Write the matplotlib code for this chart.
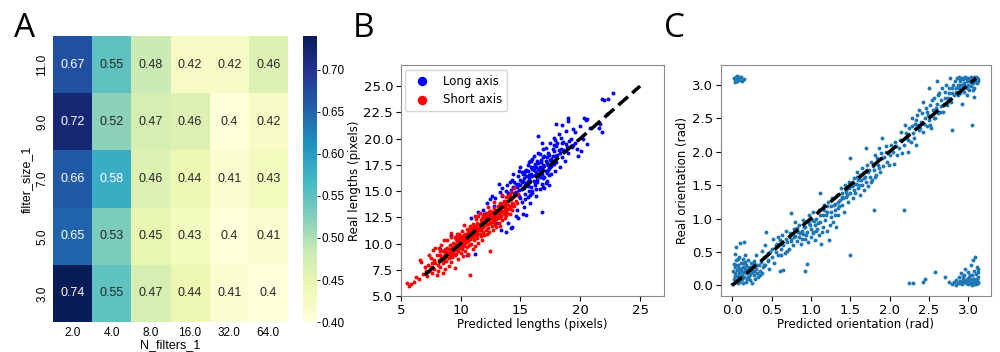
import numpy as np
import pandas as pd
import matplotlib
matplotlib.use("Agg")
import matplotlib.pyplot as plt
import seaborn as sns

# ---- panel A: grid search scores ----
n_filters = ["2.0", "4.0", "8.0", "16.0", "32.0", "64.0"]
filter_sizes = ["11.0", "9.0", "7.0", "5.0", "3.0"]
scores = [
    [0.67, 0.55, 0.48, 0.42, 0.42, 0.46],
    [0.72, 0.52, 0.47, 0.46, 0.40, 0.42],
    [0.66, 0.58, 0.46, 0.44, 0.41, 0.43],
    [0.65, 0.53, 0.45, 0.43, 0.40, 0.41],
    [0.74, 0.55, 0.47, 0.44, 0.41, 0.40],
]

# ---- panel B: predicted vs real lengths (pixels) ----
long_axis = [
    (8.3, 9.5), (9.2, 10.8), (10.0, 9.6), (10.5, 8.9), (10.9, 12.4), (11.2, 9.0), (11.5, 13.0),
    (11.9, 13.2), (12.0, 12.8), (12.2, 13.9), (12.5, 14.2), (12.6, 14.5), (12.8, 13.6), (12.9, 14.3),
    (13.0, 12.0), (13.3, 14.9), (13.4, 11.3), (13.5, 15.3), (13.6, 14.0), (13.8, 11.1), (13.9, 15.6),
    (14.0, 12.0), (14.0, 14.8), (14.2, 15.1), (14.2, 11.5), (14.3, 11.6), (14.3, 16.1), (14.5, 14.8),
    (14.6, 12.6), (14.6, 15.7), (14.7, 13.2), (14.8, 16.4), (14.8, 12.4), (14.9, 15.1), (14.9, 16.9),
    (15.0, 14.3), (15.0, 17.3), (15.1, 15.9), (15.1, 14.0), (15.2, 16.6), (15.2, 12.8), (15.3, 15.3),
    (15.3, 13.5), (15.4, 16.9), (15.4, 14.7), (15.5, 15.8), (15.5, 12.7), (15.5, 16.4), (15.6, 17.5),
    (15.6, 14.4), (15.7, 16.2), (15.7, 15.0), (15.8, 17.9), (15.8, 13.9), (15.9, 16.6), (15.9, 15.4),
    (15.9, 17.9), (16.0, 17.1), (16.0, 14.8), (16.0, 15.0), (16.1, 16.0), (16.1, 18.3), (16.2, 15.6),
    (16.2, 17.6), (16.2, 16.5), (16.3, 14.5), (16.3, 16.8), (16.4, 17.9), (16.4, 15.9), (16.4, 16.5),
    (16.5, 16.4), (16.5, 18.6), (16.5, 20.2), (16.6, 15.2), (16.6, 17.3), (16.6, 18.5), (16.7, 16.7),
    (16.7, 18.0), (16.8, 15.7), (16.8, 13.0), (16.8, 19.6), (16.9, 17.5), (16.9, 16.2), (17.0, 18.3),
    (17.0, 15.3), (17.0, 16.3), (17.1, 16.9), (17.1, 19.1), (17.2, 17.7), (17.2, 16.0), (17.3, 18.6),
    (17.3, 17.0), (17.4, 17.2), (17.4, 15.6), (17.5, 18.0), (17.5, 19.6), (17.6, 16.6), (17.6, 17.4),
    (17.7, 17.6), (17.8, 18.8), (17.8, 20.1), (17.9, 16.9), (18.0, 19.3), (18.0, 17.8), (18.0, 21.4),
    (18.1, 18.4), (18.2, 20.4), (18.3, 17.3), (18.4, 19.0), (18.5, 21.3), (18.5, 18.2), (18.6, 19.7),
    (18.7, 17.9), (18.8, 20.7), (18.9, 19.2), (19.0, 21.7), (19.0, 18.6), (19.0, 22.0), (19.2, 20.0),
    (19.3, 19.2), (19.4, 19.4), (19.6, 20.6), (19.75, 19.0), (19.8, 18.3), (20.0, 21.2), (20.1, 18.8),
    (20.2, 20.0), (20.3, 22.0), (20.5, 21.8), (20.6, 21.9), (20.6, 19.5), (20.8, 21.0), (21.6, 21.0),
    (21.65, 21.4), (21.8, 20.6), (21.8, 23.8), (22.0, 23.7), (22.2, 22.3), (22.35, 23.8), (22.7, 24.3),
    (13.2, 15.7), (14.4, 16.6), (15.0, 15.6), (15.6, 16.0), (16.1, 17.3), (16.8, 17.2), (17.2, 18.2),
    (17.7, 18.3), (18.2, 18.9), (15.3, 16.2), (14.7, 15.4), (16.5, 17.7), (17.9, 19.9), (18.4, 20.1),
    (14.1, 14.4), (14.4, 15.4), (14.6, 14.9), (14.8, 15.7), (15.0, 16.1), (15.1, 15.2), (15.2, 16.0),
    (15.3, 16.7), (15.4, 15.6), (15.5, 17.0), (15.6, 15.5), (15.7, 16.5), (15.8, 16.0), (15.9, 17.3),
    (16.0, 16.4), (16.1, 17.0), (16.2, 15.9), (16.3, 17.3), (16.4, 16.1), (16.5, 17.1), (16.6, 16.3),
    (16.7, 17.8), (16.8, 16.6), (16.9, 18.2), (17.0, 17.4), (17.1, 17.9), (17.2, 16.7), (17.3, 17.5),
    (17.4, 18.4), (17.5, 17.3), (17.6, 18.1), (17.7, 19.0), (17.8, 17.6), (17.9, 18.3), (18.1, 19.6),
    (18.3, 18.6), (18.6, 18.9), (18.8, 19.5), (19.1, 19.8), (19.4, 20.9), (15.1, 16.8), (15.6, 16.9),
    (16.0, 18.1), (16.6, 16.9), (17.1, 15.8), (17.8, 19.4), (14.5, 15.9), (15.8, 14.6), (16.9, 15.4),
    (15.4, 14.2), (14.9, 14.5), (16.3, 15.2), (13.8, 15.0), (14.1, 15.9), (13.5, 14.5), (17.4, 16.5),
    (18.5, 19.6), (19.6, 19.6), (15.7, 17.8), (16.9, 19.0),
]
short_axis = [
    (5.5, 6.2), (5.7, 6.0), (5.9, 6.1), (6.1, 6.3), (6.3, 6.8), (6.5, 6.6), (6.6, 8.4), (6.7, 8.2),
    (6.9, 7.1), (7.0, 7.8), (7.2, 6.9), (7.3, 8.0), (7.4, 7.4), (7.4, 8.9), (7.5, 8.6), (7.6, 7.2),
    (7.7, 9.4), (7.8, 7.6), (7.9, 8.1), (7.9, 9.6), (8.0, 7.0), (8.0, 8.9), (8.1, 7.4), (8.2, 8.4),
    (8.2, 9.6), (8.3, 9.3), (8.3, 7.8), (8.4, 9.9), (8.5, 8.1), (8.5, 7.2), (8.6, 8.8), (8.6, 10.3),
    (8.7, 9.5), (8.7, 7.6), (8.8, 8.3), (8.9, 9.0), (8.9, 10.3), (9.0, 8.6), (9.0, 7.9), (9.1, 9.4),
    (9.1, 9.9), (9.2, 8.2), (9.2, 10.6), (9.2, 11.0), (9.3, 9.1), (9.3, 8.7), (9.4, 9.7), (9.4, 10.1),
    (9.5, 8.9), (9.5, 9.4), (9.5, 7.7), (9.5, 10.6), (9.6, 10.4), (9.6, 9.0), (9.7, 9.8), (9.7, 10.9),
    (9.8, 9.3), (9.8, 8.5), (9.9, 10.2), (9.9, 9.6), (10.0, 10.0), (10.0, 9.1), (10.0, 10.7),
    (10.1, 9.5), (10.1, 11.2), (10.2, 10.3), (10.2, 8.8), (10.3, 9.8), (10.3, 10.8), (10.3, 11.8),
    (10.4, 10.1), (10.4, 9.3), (10.5, 10.6), (10.5, 11.4), (10.5, 9.7), (10.6, 10.2), (10.6, 8.9),
    (10.6, 9.0), (10.7, 10.9), (10.7, 9.9), (10.8, 10.4), (10.8, 11.7), (10.8, 7.0), (10.9, 10.0),
    (10.9, 11.1), (11.0, 10.6), (11.0, 9.5), (11.0, 11.9), (11.1, 10.3), (11.1, 11.4), (11.2, 10.8),
    (11.2, 9.8), (11.2, 12.6), (11.3, 11.1), (11.3, 12.3), (11.4, 10.5), (11.4, 11.6), (11.5, 10.9),
    (11.5, 10.1), (11.5, 12.6), (11.6, 11.3), (11.6, 11.9), (11.6, 12.9), (11.7, 10.7), (11.7, 12.2),
    (11.8, 11.5), (11.8, 10.3), (11.9, 11.1), (11.9, 12.0), (12.0, 11.7), (12.0, 10.8), (12.0, 12.5),
    (12.1, 11.3), (12.1, 12.9), (12.2, 11.9), (12.2, 10.9), (12.3, 12.3), (12.3, 11.5), (12.3, 13.5),
    (12.4, 12.7), (12.4, 11.1), (12.5, 12.0), (12.5, 9.3), (12.5, 13.1), (12.6, 11.7), (12.6, 12.4),
    (12.7, 12.9), (12.7, 11.3), (12.8, 12.2), (12.8, 13.4), (12.8, 14.0), (12.9, 11.9), (12.9, 12.6),
    (13.0, 13.0), (13.0, 11.6), (13.1, 12.4), (13.1, 13.6), (13.2, 12.8), (13.2, 12.0), (13.3, 13.3),
    (13.3, 11.7), (13.4, 12.6), (13.4, 13.8), (13.5, 13.1), (13.5, 12.2), (13.5, 14.6), (13.6, 13.5),
    (13.6, 12.8), (13.7, 14.0), (13.7, 12.4), (13.8, 13.2), (13.8, 14.4), (13.9, 12.9), (13.9, 13.7),
    (14.0, 14.1), (14.0, 13.3), (14.1, 12.8), (14.1, 14.6), (14.2, 13.6), (14.2, 14.9), (14.3, 13.9),
    (14.4, 14.4), (14.5, 13.6), (14.5, 15.3), (14.6, 14.1), (14.8, 14.7), (8.1, 8.0), (8.8, 9.2),
    (9.4, 9.3), (9.9, 10.9), (10.2, 9.9), (10.7, 10.5), (11.1, 10.9), (11.4, 11.2), (11.8, 12.1),
    (12.2, 12.2), (12.6, 13.0), (12.9, 13.2), (13.3, 12.9), (13.7, 13.4), (14.2, 14.2), (10.4, 10.9),
    (11.7, 11.4), (12.4, 12.2), (13.1, 13.0), (9.0, 9.5), (9.7, 9.4), (8.4, 8.6), (7.6, 8.1),
    (8.6, 8.4), (8.8, 8.7), (9.0, 9.1), (9.1, 8.9), (9.3, 9.6), (9.4, 9.0), (9.6, 9.7), (9.7, 10.2),
    (9.8, 9.9), (9.9, 10.5), (10.0, 9.8), (10.1, 10.4), (10.2, 10.7), (10.3, 10.3), (10.4, 10.6),
    (10.5, 10.2), (10.6, 10.8), (10.7, 11.3), (10.8, 10.9), (10.9, 10.6), (11.0, 11.2), (11.1, 11.6),
    (11.2, 11.3), (11.3, 10.8), (11.4, 12.0), (11.5, 11.5), (11.6, 10.9), (11.7, 11.8), (11.8, 12.4),
    (11.9, 11.7), (12.0, 12.1), (12.1, 11.9), (12.2, 12.6), (12.3, 11.9), (12.4, 12.4), (12.5, 12.7),
    (12.6, 12.1), (12.7, 12.5), (12.8, 12.8), (12.9, 13.0), (13.0, 12.3), (13.1, 12.7), (13.2, 13.3),
    (13.3, 12.5), (13.4, 13.1), (13.5, 13.6), (13.6, 13.1), (13.7, 13.7), (13.8, 12.7), (13.9, 14.1),
    (14.0, 13.7), (14.1, 13.4), (14.2, 14.3), (14.3, 13.2), (14.4, 13.8), (14.6, 14.6), (14.7, 13.9),
    (9.2, 9.4), (10.4, 10.4), (11.3, 11.7), (12.1, 12.3), (12.9, 12.2), (13.6, 14.1), (8.3, 8.9),
    (8.9, 9.6), (9.5, 10.0), (10.1, 10.1), (10.9, 11.5), (11.6, 11.6), (12.4, 13.0), (13.2, 13.0),
    (14.0, 14.5), (7.8, 8.4), (8.5, 9.3), (7.1, 7.4), (7.5, 7.8), (10.6, 11.1), (11.9, 12.7),
    (13.3, 13.9), (12.6, 12.9), (11.0, 10.8), (9.8, 10.6), (8.7, 9.0),
]

# ---- panel C: predicted vs real orientation (rad) ----
orientation = [
    # near 0
    (0.0, 0.02), (0.01, 0.22), (0.02, 0.1), (0.02, 0.32), (0.03, 0.05), (0.03, 0.47), (0.04, 0.18),
    (0.04, 0.27), (0.05, 0.08), (0.05, 0.38), (0.05, 0.58), (0.06, 0.14), (0.06, 0.23), (0.07, 0.03),
    (0.07, 0.31), (0.08, 0.19), (0.08, 0.12), (0.09, 0.26), (0.09, 0.42), (0.1, 0.06), (0.1, 0.63),
    (0.1, 0.21), (0.11, 0.33), (0.12, 0.15), (0.12, 0.09), (0.13, 0.28), (0.13, 0.4), (0.14, 0.2),
    (0.15, 0.65), (0.15, 0.12), (0.16, 0.25), (0.16, 0.35), (0.17, 0.05), (0.18, 0.18), (0.18, 0.3),
    (0.19, 0.1), (0.2, 0.22), (0.2, 0.38), (0.21, 0.14), (0.22, 0.27), (0.23, 0.08), (0.24, 0.33),
    (0.25, 0.2), (0.25, 0.04), (0.26, 0.29), (0.27, 0.15), (0.28, 0.36), (0.29, 0.1), (0.3, 0.25),
    (0.31, 0.18), (0.32, 0.31), (0.33, 0.12), (0.35, 0.22), (0.36, 0.35), (0.38, 0.19), (0.39, 0.28),
    (0.4, 0.42), (0.42, 0.3), (0.43, 0.8), (0.45, 0.36), (0.45, 0.48),
    (0.05, 0.3), (0.08, 0.05), (0.11, 0.25), (0.14, 0.34), (0.17, 0.22), (0.19, 0.28), (0.22, 0.17),
    (0.24, 0.24), (0.27, 0.34), (0.03, 0.14), (0.13, 0.04), (0.2, 0.12), (0.28, 0.22), (0.34, 0.3),
    (0.07, 0.4), (0.16, 0.45),
    # diagonal
    (0.3, 0.45), (0.35, 0.15), (0.38, 0.52), (0.4, 0.3), (0.42, 0.6), (0.45, 0.38), (0.47, 0.25),
    (0.5, 0.55), (0.5, 0.42), (0.52, 0.7), (0.53, 0.33), (0.55, 0.5), (0.57, 0.62), (0.58, 0.45),
    (0.6, 0.22), (0.6, 0.68), (0.62, 0.55), (0.63, 0.75), (0.65, 0.23), (0.65, 0.6), (0.67, 0.48),
    (0.68, 0.82), (0.7, 0.65), (0.72, 0.55), (0.73, 0.78), (0.75, 0.7), (0.75, 1.08), (0.77, 0.6),
    (0.78, 0.85), (0.8, 0.74), (0.8, 0.95), (0.82, 0.66), (0.83, 0.8), (0.85, 0.9), (0.85, 0.72),
    (0.87, 0.62), (0.88, 0.82), (0.9, 0.77), (0.9, 0.98), (0.92, 0.22), (0.92, 0.7), (0.93, 0.88),
    (0.95, 0.32), (0.95, 0.8), (0.96, 0.65), (0.97, 0.93), (0.98, 1.05), (1.0, 0.85), (1.0, 0.72),
    (1.01, 0.98), (1.02, 1.1), (1.03, 0.8), (1.05, 0.9), (1.05, 0.68), (1.07, 1.0), (1.08, 0.85),
    (1.1, 1.12), (1.1, 0.75), (1.12, 0.95), (1.12, 1.38), (1.13, 0.62), (1.15, 1.05), (1.15, 0.88),
    (1.17, 1.2), (1.18, 0.98), (1.2, 1.1), (1.2, 0.82), (1.22, 1.25), (1.23, 0.68), (1.25, 1.02),
    (1.25, 1.18), (1.27, 1.3), (1.28, 0.95), (1.3, 1.12), (1.3, 1.22), (1.32, 0.88), (1.33, 1.35),
    (1.35, 1.15), (1.35, 1.05), (1.37, 1.28), (1.38, 1.45), (1.4, 1.2), (1.4, 1.38), (1.42, 1.1),
    (1.43, 1.5), (1.45, 1.32), (1.45, 1.42), (1.47, 1.25), (1.48, 1.55), (1.5, 0.45), (1.5, 1.38),
    (1.5, 1.9), (1.52, 1.48), (1.53, 1.3), (1.55, 1.6), (1.55, 1.42), (1.57, 1.52), (1.58, 1.7),
    (1.6, 1.45), (1.6, 1.58), (1.62, 1.35), (1.63, 1.65), (1.65, 1.5), (1.65, 1.75), (1.67, 1.6),
    (1.68, 1.42), (1.7, 1.55), (1.7, 2.05), (1.72, 1.7), (1.73, 1.48), (1.75, 1.62), (1.77, 1.85),
    (1.78, 1.58), (1.8, 1.12), (1.8, 1.72), (1.82, 1.95), (1.83, 1.65), (1.85, 1.8), (1.87, 2.05),
    (1.88, 1.7), (1.9, 1.9), (1.9, 2.2), (1.92, 1.78), (1.95, 2.0), (1.97, 1.85), (2.0, 1.95),
    (2.02, 2.1), (2.05, 1.82), (2.07, 2.15), (2.1, 1.95), (2.12, 2.05), (2.15, 2.3), (2.18, 1.13),
    (2.18, 2.1), (2.2, 2.4), (2.22, 2.22), (2.23, 2.0), (2.25, 2.35), (2.27, 2.15), (2.28, 2.5),
    (2.3, 2.28), (2.32, 2.42), (2.33, 2.1), (2.35, 2.55), (2.37, 2.32), (2.38, 2.62), (2.4, 2.45),
    (2.42, 2.3), (2.43, 2.75), (2.45, 2.5), (2.47, 2.38), (2.48, 2.6), (2.5, 2.95), (2.5, 2.48),
    (2.52, 2.7), (2.53, 2.35), (2.55, 2.62), (2.57, 2.8), (2.58, 2.5), (2.6, 2.72), (2.6, 3.05),
    (2.62, 2.58), (2.63, 2.88), (2.65, 2.68), (2.67, 2.95), (2.68, 2.6), (2.7, 2.8), (2.72, 3.0),
    (2.73, 2.7), (2.75, 2.88), (2.77, 3.1), (2.78, 2.75), (2.8, 2.32), (2.8, 2.95), (2.82, 2.85),
    (2.83, 3.05),
    (0.48, 0.5), (0.55, 0.6), (0.58, 0.72), (0.62, 0.45), (0.68, 0.7), (0.7, 0.52), (0.74, 0.66),
    (0.78, 0.72), (0.82, 0.86), (0.86, 0.78), (0.89, 0.7), (0.91, 0.87), (0.94, 0.75), (0.99, 0.9),
    (1.02, 0.78), (1.04, 0.96), (1.06, 0.82), (1.09, 0.93), (1.11, 1.05), (1.14, 0.8), (1.16, 1.12),
    (1.19, 1.05), (1.21, 1.18), (1.24, 0.9), (1.26, 1.1), (1.29, 1.2), (1.31, 1.05), (1.34, 1.25),
    (1.36, 1.18), (1.39, 1.32), (1.41, 1.3), (1.44, 1.4), (1.46, 1.35), (1.49, 1.45), (1.51, 1.52),
    (1.54, 1.5), (1.56, 1.38), (1.59, 1.62), (1.61, 1.5), (1.64, 1.58), (1.66, 1.68), (1.69, 1.62),
    (1.71, 1.8), (1.74, 1.72), (1.76, 1.55), (1.79, 1.78), (1.81, 1.62), (1.84, 1.9), (1.86, 1.75),
    (1.89, 1.98), (1.93, 1.92), (1.96, 2.08), (1.99, 1.8), (2.04, 2.0), (2.08, 2.08), (2.13, 2.18),
    (2.16, 1.98), (2.21, 2.28), (2.24, 2.18), (2.29, 2.38), (2.31, 2.2), (2.34, 2.48), (2.36, 2.4),
    (2.39, 2.35), (2.41, 2.58), (2.44, 2.42), (2.46, 2.65), (2.49, 2.55), (2.51, 2.4), (2.54, 2.78),
    (2.56, 2.5), (2.59, 2.65), (2.61, 2.85), (2.64, 2.6), (2.66, 2.78), (2.69, 2.72), (2.71, 2.9),
    (2.74, 2.8), (2.76, 2.95), (2.79, 2.88), (2.81, 3.0), (2.84, 2.95),
    # near pi
    (2.85, 2.9), (2.86, 3.1), (2.87, 3.0), (2.88, 2.95), (2.88, 3.12), (2.9, 3.05), (2.9, 2.88),
    (2.91, 3.0), (2.92, 3.1), (2.93, 2.95), (2.94, 3.08), (2.95, 2.9), (2.95, 3.02), (2.96, 3.12),
    (2.97, 2.97), (2.98, 3.06), (2.99, 2.85), (3.0, 3.1), (3.0, 3.0), (3.01, 2.92), (3.02, 3.05),
    (3.03, 3.12), (3.04, 2.98), (3.05, 3.08), (3.05, 2.4), (3.06, 3.02), (3.07, 3.1), (3.08, 2.95),
    (3.09, 3.06), (3.1, 3.12), (3.11, 3.03), (3.12, 3.08), (3.13, 3.06), (2.92, 2.72), (3.08, 2.82),
    (2.89, 3.08), (2.94, 3.0), (2.97, 3.1), (3.01, 3.07), (3.04, 3.04), (3.06, 2.92), (3.08, 3.12),
    (3.11, 3.1), (2.87, 2.85), (2.99, 2.95),
    # wrapped: predicted ~pi, real ~0
    (2.25, 0.03), (2.3, 0.04), (2.42, 0.05), (2.45, 0.1), (2.58, 0.2), (2.7, 0.12), (2.75, 0.05),
    (2.8, 0.02), (2.82, 0.05), (2.84, 0.01), (2.85, 0.08), (2.87, 0.03), (2.88, 0.12), (2.9, 0.06),
    (2.91, 0.18), (2.92, 0.02), (2.93, 0.09), (2.94, 0.05), (2.95, 0.15), (2.96, 0.25), (2.97, 0.03),
    (2.98, 0.1), (2.99, 0.07), (3.0, 0.2), (3.0, 0.02), (3.01, 0.12), (3.02, 0.05), (3.03, 0.3),
    (3.04, 0.08), (3.05, 0.15), (3.05, 0.01), (3.06, 0.38), (3.07, 0.04), (3.07, 0.22), (3.08, 0.1),
    (3.09, 0.42), (3.09, 0.06), (3.1, 0.17), (3.1, 0.02), (3.11, 0.28), (3.11, 0.09), (3.12, 0.05),
    (3.12, 0.13), (3.13, 0.2), (3.13, 0.03),
    (2.96, 0.06), (3.02, 0.16), (3.06, 0.1), (3.08, 0.02), (3.1, 0.08), (3.12, 0.25), (3.0, 0.1),
    (2.94, 0.12), (3.04, 0.03), (2.89, 0.04),
    # wrapped: predicted ~0, real ~pi
    (0.02, 3.1), (0.03, 3.04), (0.04, 3.08), (0.05, 3.12), (0.06, 3.05), (0.06, 3.13), (0.07, 3.1),
    (0.08, 3.11), (0.09, 3.07), (0.1, 3.09), (0.11, 3.12), (0.12, 3.06), (0.15, 3.08),
]

long_axis = np.array(long_axis)
short_axis = np.array(short_axis)
orientation = np.array(orientation)

fig = plt.figure(figsize=(10, 3.52), dpi=100)

# ---- A ----
ax_a = fig.add_axes([0.053, 0.085, 0.235, 0.8125])
cax = fig.add_axes([0.303, 0.085, 0.014, 0.8125])
df = pd.DataFrame(scores, index=filter_sizes, columns=n_filters)
sns.heatmap(df, annot=True, cmap="YlGnBu", ax=ax_a, cbar_ax=cax,
            annot_kws={"fontsize": 9, "fontfamily": "Liberation Sans"})
ax_a.tick_params(length=0, labelsize=8.5)
for lbl in ax_a.get_xticklabels() + ax_a.get_yticklabels():
    lbl.set_fontfamily("Liberation Sans")
for lbl in ax_a.get_yticklabels():
    lbl.set_rotation(90)
    lbl.set_va("center")
ax_a.set_xlabel("N_filters_1", fontsize=9, family="Liberation Sans", labelpad=0)
ax_a.set_ylabel("filter_size_1", fontsize=9, family="Liberation Sans", labelpad=2)
cax.set_yticks([0.40, 0.45, 0.50, 0.55, 0.60, 0.65, 0.70])
cax.set_yticklabels(["0.40", "0.45", "0.50", "0.55", "0.60", "0.65", "0.70"],
                    fontsize=8.5, family="Liberation Sans")
cax.tick_params(length=2.5, width=0.6, pad=1)

# ---- B ----
ax_b = fig.add_axes([0.4007, 0.159, 0.2633, 0.656])
ax_b.scatter(long_axis[:, 0], long_axis[:, 1], s=8, c="b", linewidths=0, label="Long axis")
ax_b.scatter(short_axis[:, 0], short_axis[:, 1], s=8, c="r", linewidths=0, label="Short axis")
ax_b.plot([7, 25], [7, 25], "k--", lw=2.5)
ax_b.set_xlim(5, 27)
ax_b.set_ylim(5, 27)
ax_b.set_xticks([5, 10, 15, 20, 25])
ax_b.set_yticks([5.0, 7.5, 10.0, 12.5, 15.0, 17.5, 20.0, 22.5, 25.0])
ax_b.set_xlabel("Predicted lengths (pixels)", fontsize=8.5, labelpad=1)
ax_b.set_ylabel("Real lengths (pixels)", fontsize=8.5, labelpad=2)
ax_b.tick_params(labelsize=9.5, pad=2)
ax_b.legend(loc="upper left", fontsize=8.5, markerscale=2.4, handletextpad=0.8,
            borderaxespad=0.4)
for sp in ax_b.spines.values():
    sp.set_color("#888888")

# ---- C ----
ax_c = fig.add_axes([0.7207, 0.159, 0.2703, 0.656])
ax_c.scatter(orientation[:, 0], orientation[:, 1], s=8, c="tab:blue", linewidths=0)
ax_c.plot([0, 3.1], [0, 3.1], "k--", lw=2.5)
ax_c.set_xlim(-0.148, 3.29)
ax_c.set_ylim(-0.16, 3.295)
ax_c.set_xticks([0.0, 0.5, 1.0, 1.5, 2.0, 2.5, 3.0])
ax_c.set_yticks([0.0, 0.5, 1.0, 1.5, 2.0, 2.5, 3.0])
ax_c.set_xlabel("Predicted orientation (rad)", fontsize=8.5, labelpad=1)
ax_c.set_ylabel("Real orientation (rad)", fontsize=8.5, labelpad=2)
ax_c.tick_params(labelsize=9.5, pad=2)
for sp in ax_c.spines.values():
    sp.set_color("#888888")

# panel letters
for x, letter in [(0.014, "A"), (0.353, "B"), (0.664, "C")]:
    fig.text(x, 0.895, letter, fontsize=24, family="Open Sans", va="baseline")

fig.savefig("out.png", dpi=100)
